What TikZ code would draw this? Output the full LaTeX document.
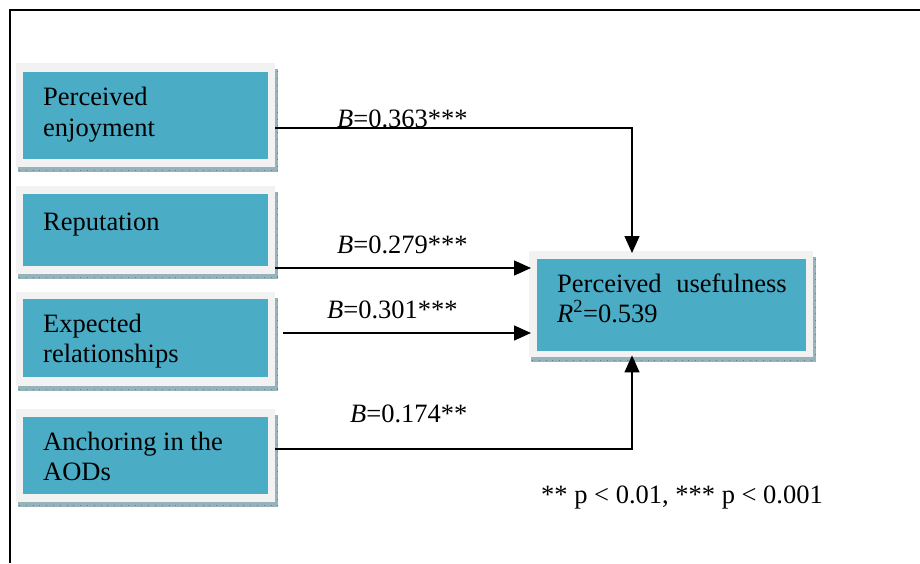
\documentclass[tikz,border=0pt]{standalone}
\usepackage{fontspec}
\setmainfont{Liberation Serif}
\usetikzlibrary{arrows.meta}
\definecolor{tealc}{RGB}{75,172,198}
\definecolor{grayc}{RGB}{242,242,242}
\definecolor{shadc}{RGB}{150,178,186}
\definecolor{shadd}{RGB}{95,130,140}
\tikzset{
  outerbox/.style={fill=grayc, inner sep=0pt, anchor=north west},
  tealbox/.style={fill=tealc, inner sep=0pt, anchor=north west},
  txt/.style={inner sep=0pt, anchor=base west, font=\fontsize{26.5}{31}\selectfont},
  conn/.style={line width=1.4pt, -{Triangle[length=17pt,width=15pt]}, shorten >=-2pt},
}
\newcommand{\shadowof}[1]{%
  \fill[shadc] ([yshift=-6pt]#1.north east) rectangle ([xshift=3pt,yshift=-5pt]#1.south east);
  \fill[shadc] ([xshift=2pt]#1.south west) rectangle ([xshift=3pt,yshift=-5pt]#1.south east);
  \draw[shadd, line width=0.6pt, dash pattern=on 0.8pt off 6pt] ([xshift=3pt,yshift=-2.5pt]#1.south west) -- ([xshift=3pt,yshift=-2.5pt]#1.south east);
  \draw[shadd, line width=0.6pt, dash pattern=on 0.8pt off 6pt] ([xshift=1.5pt,yshift=-8pt]#1.north east) -- ([xshift=1.5pt,yshift=-3pt]#1.south east);
}
\begin{document}
\begin{tikzpicture}[x=1pt,y=-1pt]
\useasboundingbox (0,0) rectangle (920,563);
\fill[white] (0,0) rectangle (920,563);
% frame
\draw[line width=2pt] (10,563) -- (10,10) -- (920,10);

% boxes (outer light frame)
\node[outerbox, minimum width=259pt, minimum height=104pt] (pe) at (16,63) {};
\node[outerbox, minimum width=259pt, minimum height=88pt] (rep) at (16,186) {};
\node[outerbox, minimum width=259pt, minimum height=94pt] (er) at (16,292) {};
\node[outerbox, minimum width=259pt, minimum height=93pt] (an) at (16,409) {};
\node[outerbox, minimum width=284pt, minimum height=106pt] (pu) at (529,251) {};
\shadowof{pe}
\shadowof{rep}
\shadowof{er}
\shadowof{an}
\shadowof{pu}
% inner teal fills
\node[tealbox, minimum width=245pt, minimum height=87pt] (pet) at (23,72) {};
\node[tealbox, minimum width=245pt, minimum height=72pt] (rept) at (23,194) {};
\node[tealbox, minimum width=245pt, minimum height=78pt] (ert) at (23,299) {};
\node[tealbox, minimum width=245pt, minimum height=77pt] (ant) at (23,417) {};
\node[tealbox, minimum width=269pt, minimum height=92pt] (put) at (537,259) {};

% texts
\node[txt] (t1a) at (43,105) {Perceived};
\node[txt] (t1b) at (43,136) {enjoyment};
\node[txt] (t2a) at (43,230) {Reputation};
\node[txt] (t3a) at (43,332) {Expected};
\node[txt] (t3b) at (43,362) {relationships};
\node[txt] (t4a) at (43,450) {Anchoring in the};
\node[txt] (t4b) at (43,480) {AODs};
\node[txt] (t5a) at (557,292) {Perceived\hspace{0.3em} usefulness};
\node[txt] (t5b) at (557,322) {\textit{R}\textsuperscript{2}=0.539};

% labels
\node[txt] (l1) at (337,127) {\textit{B}=0.363***};
\node[txt] (l2) at (337,253) {\textit{B}=0.279***};
\node[txt] (l3) at (327,318) {\textit{B}=0.301***};
\node[txt] (l4) at (350,422) {\textit{B}=0.174**};
\node[txt] (fn) at (541,503) {** p < 0.01, *** p < 0.001};

% connectors
\coordinate (c1) at (632,128);
\coordinate (c4) at (632,449);
\draw[conn] (pe.east |- c1) -- (c1) -- (c1 |- pu.north);
\draw[conn] (rep.east |- 0,268) -- (pu.west |- 0,268);
\draw[conn] ([xshift=8pt]er.east |- 0,333) -- (pu.west |- 0,333);
\draw[conn] (an.east |- c4) -- (c4) -- (c4 |- pu.south);
\end{tikzpicture}
\end{document}
